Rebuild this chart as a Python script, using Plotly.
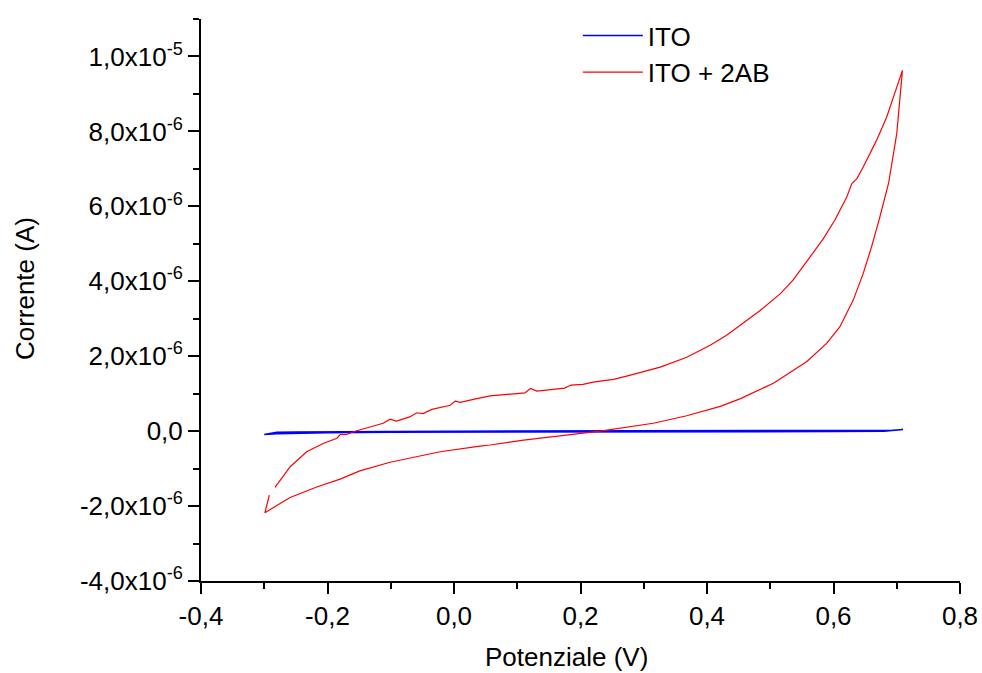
import plotly.graph_objects as go

# ---- data (potential in V, current in microampere) ----
ito_v = [-0.300, -0.290, -0.280, -0.250, -0.200, -0.100, 0.000, 0.100, 0.200, 0.300,
         0.400, 0.500, 0.600, 0.660, 0.690, 0.710,
         0.680, 0.600, 0.500, 0.400, 0.300, 0.200, 0.100, 0.000, -0.100, -0.200,
         -0.250, -0.280, -0.300]
ito_i = [-0.09, -0.05, -0.03, -0.02, -0.01, -0.01, 0.00, 0.00, 0.00, 0.00,
         0.00, 0.00, 0.01, 0.01, 0.02, 0.045,
         0.00, -0.01, -0.01, -0.01, -0.01, -0.02, -0.02, -0.03, -0.03, -0.04,
         -0.05, -0.07, -0.09]

ab_v = [-0.283, -0.259, -0.233, -0.207, -0.185, -0.180, -0.170, -0.154, -0.112, -0.101,
        -0.091, -0.070, -0.059, -0.049, -0.035, -0.006, 0.002, 0.010, 0.036, 0.057,
        0.112, 0.121, 0.131, 0.175, 0.185, 0.204, 0.220, 0.252, 0.273, 0.310,
        0.326, 0.368, 0.405, 0.431, 0.463, 0.484, 0.516, 0.536, 0.563, 0.584,
        0.602, 0.621, 0.629, 0.637, 0.647, 0.668, 0.684, 0.709,
        0.700, 0.687, 0.672, 0.660, 0.647, 0.631, 0.610, 0.589, 0.558, 0.505,
        0.452, 0.431, 0.421, 0.368, 0.315, 0.231, 0.189, 0.110, 0.057, 0.041,
        -0.022, -0.054, -0.101, -0.149, -0.180, -0.217, -0.259, -0.275, -0.299, -0.292]
ab_i = [-1.50, -0.95, -0.55, -0.33, -0.19, -0.09, -0.09, 0.01, 0.21, 0.32,
        0.27, 0.38, 0.49, 0.47, 0.58, 0.69, 0.80, 0.77, 0.87, 0.94,
        1.02, 1.14, 1.07, 1.15, 1.23, 1.25, 1.31, 1.38, 1.47, 1.63,
        1.71, 1.97, 2.29, 2.56, 2.96, 3.22, 3.67, 4.03, 4.65, 5.14,
        5.63, 6.25, 6.61, 6.74, 7.05, 7.76, 8.38, 9.63,
        7.94, 6.61, 5.63, 4.91, 4.21, 3.49, 2.78, 2.34, 1.86, 1.28,
        0.86, 0.73, 0.66, 0.41, 0.21, 0.00, -0.08, -0.24, -0.37, -0.40,
        -0.55, -0.67, -0.83, -1.06, -1.28, -1.49, -1.77, -1.93, -2.18, -1.71]

x_ticks = [-0.4, -0.2, 0.0, 0.2, 0.4, 0.6, 0.8]
x_labels = ["-0,4", "-0,2", "0,0", "0,2", "0,4", "0,6", "0,8"]
y_ticks = [-4e-6, -2e-6, 0.0, 2e-6, 4e-6, 6e-6, 8e-6, 1e-5]
y_labels = ["-4,0x10<sup>-6</sup>", "-2,0x10<sup>-6</sup>", "0,0",
            "2,0x10<sup>-6</sup>", "4,0x10<sup>-6</sup>", "6,0x10<sup>-6</sup>",
            "8,0x10<sup>-6</sup>", "1,0x10<sup>-5</sup>"]

FONT = "Liberation Sans, Arial, sans-serif"

fig = go.Figure()
fig.add_trace(go.Scatter(x=ito_v, y=[v * 1e-6 for v in ito_i], mode="lines",
                         name="ITO", line=dict(color="#0000FF", width=1.5)))
fig.add_trace(go.Scatter(x=ab_v, y=[v * 1e-6 for v in ab_i], mode="lines",
                         name="ITO + 2AB", line=dict(color="#FF0000", width=1.2)))

axis_common = dict(showline=True, linecolor="black", linewidth=2, mirror=False,
                   showgrid=False, zeroline=False, ticks="outside", ticklen=11,
                   tickwidth=2, tickcolor="black",
                   tickfont=dict(family=FONT, size=26, color="black"))

fig.update_xaxes(range=[-0.4, 0.8], tickmode="array", tickvals=x_ticks, ticktext=x_labels,
                 minor=dict(dtick=0.1, ticks="outside", ticklen=6, tickwidth=2,
                            tickcolor="black"),
                 **axis_common)
fig.update_yaxes(range=[-4e-6, 1.1e-5], tickmode="array", tickvals=y_ticks, ticktext=y_labels,
                 minor=dict(dtick=1e-6, tick0=0, ticks="outside", ticklen=6, tickwidth=2,
                            tickcolor="black"),
                 **axis_common)

fig.update_layout(
    width=982, height=673,
    margin=dict(l=201, r=22, t=19, b=92, autoexpand=False),
    plot_bgcolor="white", paper_bgcolor="white",
    font=dict(family=FONT, size=26, color="black"),
    showlegend=True,
    legend=dict(x=0.4965, y=1.0125, xanchor="left", yanchor="top",
                bgcolor="rgba(0,0,0,0)", font=dict(family=FONT, size=26),
                itemwidth=60, tracegroupgap=0),
    annotations=[
        dict(text="Potenziale (V)", xref="paper", yref="paper", x=0.482, y=-0.136,
             xanchor="center", yanchor="middle", showarrow=False,
             font=dict(family=FONT, size=26, color="black")),
        dict(text="Corrente (A)", xref="paper", yref="paper", x=-0.232, y=0.521,
             xanchor="center", yanchor="middle", showarrow=False, textangle=-90,
             font=dict(family=FONT, size=26, color="black")),
    ],
)

fig.write_html("out.html")
